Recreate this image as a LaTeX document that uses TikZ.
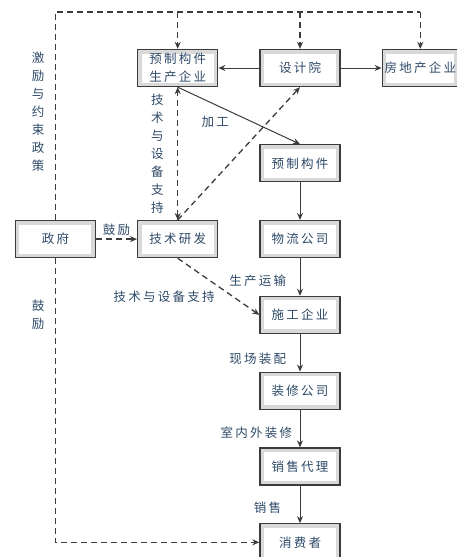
\documentclass[tikz,border=0pt]{standalone}
\usepackage{fontspec}
\setmainfont[LetterSpace=18]{Noto Sans CJK SC}
\usepackage{xcolor}
\usepackage{tikz}
\usetikzlibrary{positioning,arrows.meta}
\definecolor{boxline}{HTML}{3C3C3C}
\definecolor{inkblue}{HTML}{2E4A68}
\tikzset{every node/.style={font=\fontsize{12.5}{18}\selectfont, text=inkblue, align=center}}

\begin{document}
\begin{tikzpicture}[
    x=1pt, y=-1pt,
    node distance=37.5pt and 41pt,
    >={Stealth[length=7pt,width=6pt]},
    block/.style={rectangle, draw=boxline, line width=1.3pt, fill=gray!30,
        minimum width=80pt, minimum height=37pt, inner sep=1.5pt,
        path picture={\fill[white] ([shift={(4pt,-4pt)}]path picture bounding box.north west)
            rectangle ([shift={(-4pt,4pt)}]path picture bounding box.south east);}},
    link/.style={->, draw=boxline, line width=1pt},
    dlink/.style={link, dash pattern=on 6pt off 4pt, line width=1.3pt}
]
\useasboundingbox (0,0) rectangle (456,557);

\node (design) [block] at (300,68) {设计院};
\node (prodent) [block, left=of design] {预制构件\\生产企业};
\node (estate) [block, right=of design, minimum width=76pt, inner sep=0pt] {房地产企业};

\node (part) [block, below=57pt of design] {预制构件};
\node (logistics) [block, below=of part] {物流公司};
\node (build) [block, below=of logistics] {施工企业};
\node (deco) [block, below=of build] {装修公司};
\node (sales) [block, below=of deco] {销售代理};
\node (consumer) [block, below=of sales] {消费者};

\node (tech) [block] at (prodent |- logistics) {技术研发};
\node (gov) [block, left=of tech] {政府};

\coordinate (top) at (0,12);

% policy lines from the government
\draw[dlink, -] (gov.north) -- node[left=7pt, pos=0.52]{激\\励\\与\\约\\束\\政\\策} (gov.north |- top) -- (estate.north |- top);
\draw[dlink] (prodent.north |- top) -- (prodent.north);
\draw[dlink] (design.north |- top) -- (design.north);
\draw[dlink] (estate.north |- top) -- (estate.north);
\draw[dlink] (gov.south) |- node[left=7pt, pos=0.1]{鼓\\励} (consumer.west);
\draw[dlink] (gov) -- node[above]{鼓励} (tech);

% technology support
\draw[dlink, <->] (tech) -- node[left=10pt]{技\\术\\与\\设\\备\\支\\持} (prodent);
\draw[dlink] (tech.north) -- (design.south);
\draw[dlink] (tech.south) -- node[below left]{技术与设备支持} (build.west);

\draw[link] (design) -- (prodent);
\draw[link] (design) -- (estate);
\draw[link] (prodent.south) -- node[below left, pos=0.45]{加工} (part.north);

\draw[link] (part) -- (logistics);
\draw[link] (logistics) -- node[left=10pt, pos=0.6]{生产运输} (build);
\draw[link] (build) -- node[left=10pt, pos=0.65]{现场装配} (deco);
\draw[link] (deco) -- node[left=4pt, pos=0.6]{室内外装修} (sales);
\draw[link] (sales) -- node[left=15pt, pos=0.6]{销售} (consumer);

\end{tikzpicture}
\end{document}
